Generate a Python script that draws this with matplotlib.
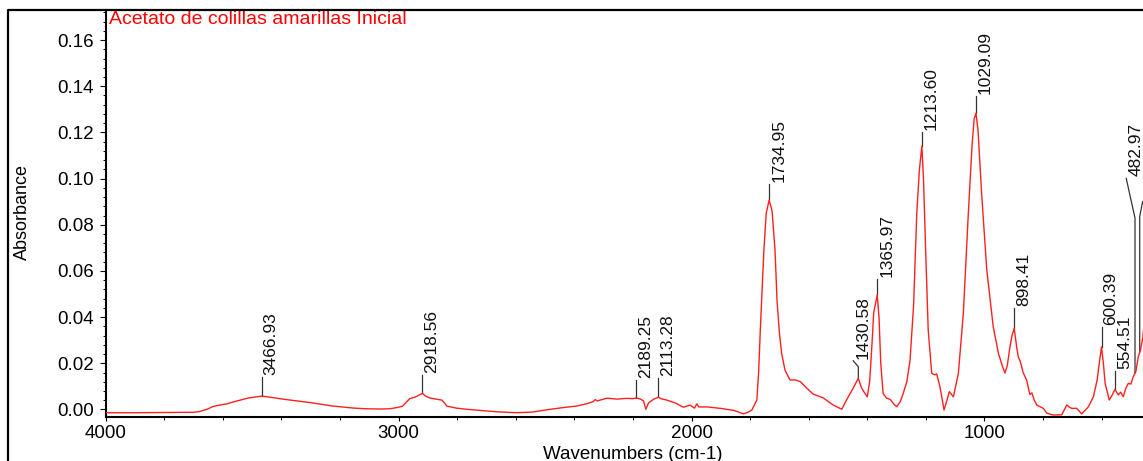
import numpy as np
import matplotlib
matplotlib.use("Agg")
import matplotlib.pyplot as plt
from matplotlib.ticker import MultipleLocator, FormatStrFormatter
from matplotlib.lines import Line2D

# ---------------- data ----------------
wavenumber = [4000, 3900, 3800, 3700, 3680, 3652, 3636, 3612, 3588, 3552, 3512, 3467,
              3432, 3396, 3302, 3225, 3153, 3109, 3063, 3030, 3003, 2986, 2973, 2962,
              2943, 2918.5, 2908, 2893, 2873, 2853, 2843, 2836, 2803, 2768, 2703, 2665,
              2597, 2543, 2482, 2433, 2392, 2354, 2336, 2329, 2322, 2289, 2254, 2224,
              2199, 2189, 2174, 2164, 2156, 2147, 2129, 2113, 2100, 2085, 2055, 2028,
              2005, 1990, 1982, 1975, 1945, 1902, 1855, 1823, 1806, 1794, 1777, 1771,
              1765, 1759, 1753, 1745, 1735, 1725, 1715, 1708, 1700, 1692, 1681, 1664,
              1646, 1629, 1616, 1607, 1585, 1550, 1516, 1487, 1471, 1448, 1430.6, 1420,
              1412, 1400, 1392, 1385, 1378, 1366, 1360, 1354, 1346, 1335, 1322, 1307,
              1299, 1287, 1277, 1265, 1254, 1242, 1231, 1222, 1213.6, 1208, 1200, 1192,
              1180, 1170, 1163, 1152, 1138, 1128, 1120, 1106, 1089, 1072, 1055, 1042,
              1035, 1029, 1022, 1016, 1009, 992, 970, 952, 938, 930, 922, 913,
              906, 898.4, 890, 884, 878, 868, 856, 845, 838, 830, 821, 799,
              787, 765, 736, 719, 710, 702, 685, 668, 645, 628, 615, 608,
              600.4, 594, 588, 574, 565, 554.5, 543, 535, 526, 518, 509, 500,
              492, 483, 475, 467, 459, 450, 430, 400]
absorbance = [-0.0014, -0.0014, -0.0013, -0.0012, -0.0009, 0.0002, 0.0012, 0.0019, 0.0024, 0.0037, 0.0050, 0.0058,
              0.0052, 0.0045, 0.0030, 0.0015, 0.0006, 0.0003, 0.0002, 0.0003, 0.0009, 0.0015, 0.0032, 0.0047,
              0.0054, 0.0070, 0.0058, 0.0050, 0.0045, 0.0041, 0.0028, 0.0015, 0.0006, 0.0001, -0.0006, -0.0010,
              -0.0014, -0.0011, 0.0001, 0.0009, 0.0015, 0.0026, 0.0034, 0.0043, 0.0037, 0.0049, 0.0045, 0.0048,
              0.0047, 0.0050, 0.0045, 0.0037, 0.0001, 0.0028, 0.0045, 0.0053, 0.0045, 0.0041, 0.0028, 0.0010,
              0.0019, 0.0006, 0.0024, 0.0011, 0.0011, 0.0005, -0.0004, -0.0019, -0.0011, -0.0002, 0.0041, 0.0160,
              0.0350, 0.0520, 0.0690, 0.0850, 0.0907, 0.0860, 0.0690, 0.0470, 0.0330, 0.0240, 0.0171, 0.0128,
              0.0128, 0.0121, 0.0105, 0.0093, 0.0067, 0.0050, 0.0019, 0.0001, 0.0041, 0.0093, 0.0135, 0.0095,
              0.0077, 0.0055, 0.0120, 0.0260, 0.0420, 0.0496, 0.0400, 0.0200, 0.0070, 0.0050, 0.0044, 0.0020,
              0.0012, 0.0035, 0.0071, 0.0120, 0.0214, 0.0450, 0.0851, 0.1040, 0.1141, 0.0994, 0.0660, 0.0344,
              0.0157, 0.0150, 0.0154, 0.0099, -0.0002, 0.0040, 0.0077, 0.0055, 0.0157, 0.0417, 0.0851, 0.1150,
              0.1260, 0.1283, 0.1210, 0.1080, 0.0922, 0.0604, 0.0358, 0.0242, 0.0185, 0.0158, 0.0190, 0.0271,
              0.0320, 0.0352, 0.0270, 0.0225, 0.0210, 0.0160, 0.0127, 0.0065, 0.0072, 0.0040, 0.0019, 0.0005,
              -0.0016, -0.0024, -0.0023, 0.0020, 0.0010, 0.0005, 0.0005, -0.0019, 0.0012, 0.0055, 0.0130, 0.0200,
              0.0271, 0.0200, 0.0113, 0.0041, 0.0060, 0.0087, 0.0063, 0.0075, 0.0055, 0.0090, 0.0113, 0.0110,
              0.0142, 0.0165, 0.0228, 0.0260, 0.0315, 0.0450, 0.0800, 0.0900]

peak_labels = ["3466.93", "2918.56", "2189.25", "2113.28", "1734.95", "1430.58", "1365.97",
               "1213.60", "1029.09", "898.41", "600.39", "554.51", "482.97", ""]
peak_wn = [3466.93, 2918.56, 2189.25, 2113.28, 1734.95, 1430.58, 1365.97,
           1213.60, 1029.09, 898.41, 600.39, 554.51, 486.0, 470.0]
leader_top = [0.0141, 0.0149, 0.0128, 0.0135, 0.0975, 0.0185, 0.0565,
              0.1203, 0.1358, 0.0438, 0.0356, 0.0168, 0.0829, 0.0835]
leader_end_wn = [3466.93, 2918.56, 2189.25, 2113.28, 1734.95, 1448.0, 1365.97,
                 1213.60, 1029.09, 898.41, 600.39, 554.51, 516.0, 460.0]
leader_end_abs = [0.0141, 0.0149, 0.0128, 0.0135, 0.0975, 0.0211, 0.0565,
                  0.1203, 0.1358, 0.0438, 0.0356, 0.0168, 0.1001, 0.0900]

title_text = "Acetato de colillas amarillas Inicial"
x_label = "Wavenumbers (cm-1)"
y_label = "Absorbance"

# ---------------- figure ----------------
plt.rcParams['font.family'] = ['Liberation Sans', 'DejaVu Sans']
W, H = 1143, 461
fig = plt.figure(figsize=(W / 100, H / 100), dpi=100)
ax = fig.add_axes([105.7 / W, (H - 417) / H, 1054.5 / W, (417 - 10.5) / H])

ax.plot(wavenumber, absorbance, color='#ff1f1f', lw=1.0, zorder=3)

wn_inc = np.array(wavenumber[::-1], dtype=float)
ab_inc = np.array(absorbance[::-1], dtype=float)
for lab, wn, top, ew, ea in zip(peak_labels, peak_wn, leader_top, leader_end_wn, leader_end_abs):
    y0 = float(np.interp(wn, wn_inc, ab_inc))
    ax.plot([wn, wn, ew], [y0, top, ea], color='#333333', lw=0.9, zorder=2)
    if lab:
        ax.annotate(lab, xy=(ew, ea), xytext=(2, 2), textcoords='offset pixels',
                    rotation=90, ha='left', va='bottom', fontsize=12.5, color='#111111')

ax.set_xlim(4000, 400)
ax.set_ylim(-0.00325, 0.1728)

ax.xaxis.set_major_locator(MultipleLocator(1000))
ax.xaxis.set_minor_locator(MultipleLocator(200))
ax.yaxis.set_major_locator(MultipleLocator(0.02))
ax.yaxis.set_minor_locator(MultipleLocator(0.004))
ax.yaxis.set_major_formatter(FormatStrFormatter('%.2f'))

ax.tick_params(axis='both', which='major', direction='out', width=0.8, labelsize=13.5, colors='black')
ax.tick_params(axis='y', which='major', length=4, pad=4.3)
ax.tick_params(axis='x', which='major', length=3, pad=3)
ax.tick_params(axis='y', which='minor', direction='out', length=2.5, width=0.7)
ax.tick_params(axis='x', which='minor', direction='out', length=2, width=0.7)

for s in ['top', 'right']:
    ax.spines[s].set_visible(False)
for s in ['left', 'bottom']:
    ax.spines[s].set_linewidth(1.5)

ax.annotate(title_text, xy=(0, 1), xycoords='axes fraction', xytext=(3, 0),
            textcoords='offset pixels', ha='left', va='top', fontsize=14, color='#ff0000')

fig.text(22 / W, 1 - 212 / H, y_label, rotation=90, ha='center', va='center', fontsize=13)
fig.text(633 / W, 1 - 454 / H, x_label, ha='center', va='center', fontsize=13.5)

# outer frame (left and top)
fig.add_artist(Line2D([7.5 / W, 7.5 / W, 1.05], [-0.1, 1 - 10.5 / H, 1 - 10.5 / H],
                      transform=fig.transFigure, color='black', lw=1.6))

fig.savefig("out.png", dpi=100)
